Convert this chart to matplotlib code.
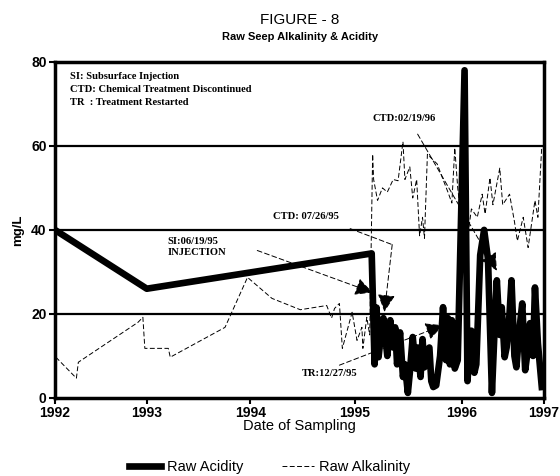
import matplotlib
matplotlib.use("Agg")
import matplotlib.pyplot as plt

plt.rcParams['font.family'] = ['Liberation Sans', 'DejaVu Sans']

# ---- data ----
acid_x = [1992.00, 1992.94, 1995.24, 1995.27, 1995.29, 1995.31, 1995.33, 1995.36, 1995.40,
          1995.43, 1995.46, 1995.48, 1995.50, 1995.53, 1995.56, 1995.58, 1995.61, 1995.63,
          1995.66, 1995.69, 1995.71, 1995.74, 1995.76, 1995.78, 1995.80, 1995.83, 1995.85,
          1995.87, 1995.90, 1995.94, 1995.97, 1996.00, 1996.02, 1996.04, 1996.06, 1996.09,
          1996.12, 1996.19, 1996.22, 1996.24, 1996.26, 1996.29, 1996.31, 1996.35, 1996.39,
          1996.43, 1996.47, 1996.50, 1996.52, 1996.55, 1996.57, 1996.60, 1996.62, 1996.65,
          1996.67, 1996.70, 1996.72, 1996.75, 1996.78, 1996.81, 1996.84, 1996.86, 1996.89,
          1996.91, 1996.94, 1996.98]
acid_y = [40.0, 26.0, 34.4, 8.0, 21.5, 9.7, 14.0, 19.0, 10.0,
          18.5, 12.0, 16.8, 8.0, 15.6, 5.0, 8.0, 1.2, 6.0,
          14.5, 7.0, 12.0, 5.0, 14.0, 7.3, 11.0, 12.0, 4.0,
          2.6, 3.0, 10.0, 21.6, 9.0, 19.0, 8.0, 18.5, 7.0,
          9.0, 78.0, 4.0, 12.0, 16.0, 6.0, 8.0, 34.0, 40.0,
          33.0, 1.2, 18.0, 28.0, 15.0, 21.6, 9.7, 12.0, 20.0,
          28.0, 10.0, 7.3, 16.0, 22.5, 6.6, 12.0, 17.8, 10.0,
          26.3, 13.0, 2.6]

alk_x = [1992.01, 1992.22, 1992.24, 1992.85, 1992.90, 1992.92, 1993.16, 1993.18, 1993.74,
         1993.97, 1994.22, 1994.51, 1994.78, 1994.83, 1994.86, 1994.91, 1994.94, 1995.04,
         1995.09, 1995.14, 1995.15, 1995.19, 1995.22, 1995.25, 1995.26, 1995.30, 1995.35,
         1995.40, 1995.46, 1995.51, 1995.56, 1995.58, 1995.63, 1995.66, 1995.70, 1995.73,
         1995.76, 1995.78, 1995.81, 1995.91, 1995.97, 1996.02, 1996.06, 1996.09, 1996.12,
         1996.17, 1996.22, 1996.26, 1996.32, 1996.37, 1996.40, 1996.45, 1996.48, 1996.55,
         1996.58, 1996.65, 1996.70, 1996.73, 1996.79, 1996.84, 1996.91, 1996.94, 1996.98]
alk_y = [9.7, 4.7, 8.5, 18.0, 19.2, 11.8, 11.8, 9.7, 16.8,
         28.7, 23.7, 21.0, 22.0, 19.0, 21.3, 22.5, 11.8, 20.4,
         13.7, 16.8, 11.8, 19.2, 15.0, 58.0, 52.0, 47.0, 50.0,
         49.0, 52.0, 51.7, 61.0, 52.0, 55.0, 47.6, 52.0, 38.6,
         43.0, 38.0, 58.0, 55.7, 52.0, 49.0, 46.4, 59.5, 50.0,
         40.0, 38.0, 45.0, 43.0, 48.5, 43.8, 52.4, 46.0, 54.7,
         46.0, 48.5, 42.0, 37.4, 43.0, 35.8, 47.0, 43.0, 60.0]

tick_pos = [1992.0, 1992.94, 1994.0, 1995.07, 1996.16, 1997.0]
tick_labels = ['1992', '1993', '1994', '1995', '1996', '1997']
y_ticks = [0, 20, 40, 60, 80]

fig = plt.figure(figsize=(5.6, 4.76), dpi=100)
ax = fig.add_axes([0.098, 0.164, 0.873, 0.706])

for yv in [20, 40, 60]:
    ax.axhline(yv, color='black', lw=1.6, zorder=1)

alk_line, = ax.plot(alk_x, alk_y, color='black', lw=0.7, ls=(0, (5, 2.5)), zorder=2)
acid_line, = ax.plot(acid_x, acid_y, color='black', lw=4.8, zorder=3)

ax.set_xlim(1992, 1997)
ax.set_ylim(0, 80)
ax.set_xticks(tick_pos)
ax.set_xticklabels(tick_labels)
ax.set_yticks(y_ticks)
for s in ax.spines.values():
    s.set_linewidth(2.5)
ax.tick_params(axis='both', direction='out', length=4, width=1.5, labelsize=10, pad=2)
for lab in ax.get_xticklabels() + ax.get_yticklabels():
    lab.set_fontweight('bold')

ax.set_xlabel('Date of Sampling', fontsize=10.5, labelpad=-1)
ax.set_ylabel('mg/L', fontsize=9.5, fontweight='bold', labelpad=5)

fig.text(0.536, 0.957, 'FIGURE - 8', ha='center', va='center', fontsize=11)
fig.text(0.536, 0.922, 'Raw Seep Alkalinity & Acidity', ha='center', va='center',
         fontsize=8, fontweight='bold')

serif = dict(family=['Liberation Serif', 'DejaVu Serif'], fontsize=7.6, fontweight='bold')
ax.text(1992.15, 76.5, 'SI: Subsurface Injection', va='center', **serif)
ax.text(1992.15, 73.5, 'CTD: Chemical Treatment Discontinued', va='center', **serif)
ax.text(1992.15, 70.4, 'TR  : Treatment Restarted', va='center', **serif)
ax.text(1995.25, 66.6, 'CTD:02/19/96', va='center', **serif)
ax.text(1994.23, 43.1, 'CTD: 07/26/95', va='center', **serif)
ax.text(1993.15, 37.2, 'SI:06/19/95', va='center', **serif)
ax.text(1993.15, 34.6, 'INJECTION', va='center', **serif)
ax.text(1994.53, 5.9, 'TR:12/27/95', va='center', **serif)

arr = dict(arrowstyle='-|>,head_length=0.9,head_width=0.45', color='black', lw=0.7,
           ls=(0, (5, 3)), mutation_scale=12, shrinkA=0, shrinkB=0)
ax.annotate('', xy=(1995.25, 25.1), xytext=(1994.07, 35.1), arrowprops=arr, zorder=4)
ax.annotate('', xy=(1995.45, 36.5), xytext=(1995.02, 40.3),
            arrowprops=dict(arrowstyle='-', color='black', lw=0.7, ls=(0, (5, 3)),
                            shrinkA=0, shrinkB=0), zorder=4)
ax.annotate('', xy=(1995.37, 20.5), xytext=(1995.45, 36.5), arrowprops=arr, zorder=4)
ax.annotate('', xy=(1995.97, 17.3), xytext=(1994.91, 7.8), arrowprops=arr, zorder=4)
ax.annotate('', xy=(1996.52, 30.3), xytext=(1995.71, 62.8), arrowprops=arr, zorder=4)

fig.legend(handles=[acid_line, alk_line], labels=['Raw Acidity', 'Raw Alkalinity'],
           loc='center', bbox_to_anchor=(0.482, 0.018), ncol=2, frameon=False,
           fontsize=10.5, handlelength=2.2, handletextpad=0.4, columnspacing=2.6,
           borderpad=0.1)

fig.savefig('out.png', dpi=100)
